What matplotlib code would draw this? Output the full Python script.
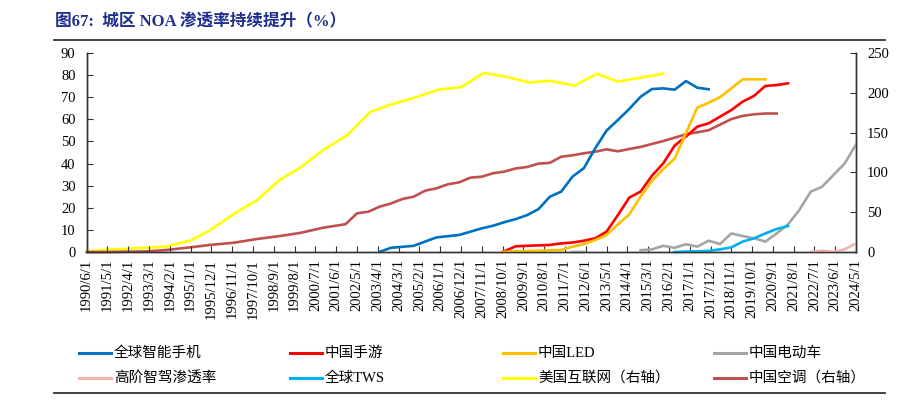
import numpy as np
import matplotlib.pyplot as plt
from matplotlib.lines import Line2D

plt.rcParams['font.family'] = ['Liberation Serif', 'Noto Sans CJK SC', 'DejaVu Sans']

# x axis: monthly category axis from 1990/6 to 2024/5, labels every 11 months
start_year, start_month = 1990, 6
n_months = 407

def mi(s):
    y, m = map(int, s.split('/'))
    return (y - start_year) * 12 + (m - start_month)

# ---- data (left axis, %) ----
phone_dates = ['2003/5', '2003/11', '2004/11', '2005/5', '2005/11', '2006/11', '2007/5', '2007/11',
               '2008/5', '2008/11', '2009/5', '2009/11', '2010/5', '2010/11', '2011/5', '2011/11',
               '2012/5', '2012/11', '2013/5', '2013/11', '2014/5', '2014/11', '2015/5', '2015/11',
               '2016/5', '2016/11', '2017/5', '2017/11']
phone_vals = [0.1, 1.9, 2.8, 4.7, 6.6, 7.7, 9.2, 10.7, 11.9, 13.5, 14.9, 16.7, 19.4, 25.0, 27.3, 34.1,
              37.9, 46.9, 54.9, 59.7, 64.7, 70.2, 73.7, 74.0, 73.4, 77.3, 74.3, 73.6]

game_dates = ['2008/10', '2009/5', '2009/11', '2010/5', '2010/11', '2011/5', '2011/11', '2012/5',
              '2012/11', '2013/5', '2013/11', '2014/5', '2014/11', '2015/5', '2015/11', '2016/5',
              '2016/11', '2017/5', '2017/11', '2018/5', '2018/11', '2019/5', '2019/11', '2020/5',
              '2020/11', '2021/5']
game_vals = [0, 2.6, 2.8, 3.0, 3.2, 3.9, 4.3, 5.1, 6.2, 9.2, 16.7, 24.6, 27.3, 34.5, 40.1, 48.1,
             52.2, 56.7, 58.2, 61.2, 64.2, 68.0, 70.6, 75.1, 75.5, 76.3]

led_dates = ['2008/10', '2009/5', '2009/11', '2010/5', '2010/11', '2011/5', '2011/11', '2012/5',
             '2012/11', '2013/5', '2013/11', '2014/5', '2014/11', '2015/5', '2015/11', '2016/5',
             '2016/11', '2017/5', '2017/11', '2018/5', '2018/11', '2019/5', '2019/11', '2020/5']
led_vals = [0, 0.3, 0.5, 0.6, 0.8, 0.9, 2.4, 3.6, 5.4, 7.7, 12.5, 17.0, 25.0, 32.2, 37.5, 42.2,
            53.7, 65.3, 67.5, 70.0, 74.0, 78.1, 78.1, 78.1]

ev_dates = ['2011/11', '2012/5', '2012/11', '2014/11', '2015/5', '2015/11', '2016/5', '2016/11',
            '2017/5', '2017/11', '2018/5', '2018/11', '2019/5', '2019/11', '2020/5', '2020/11',
            '2021/5', '2021/11', '2022/5', '2022/11', '2023/5', '2023/11', '2024/5']
ev_vals = [0, 0, np.nan, 0.8, 1.2, 2.8, 1.9, 3.5, 2.4, 5.1, 3.6, 8.4, 7.2, 6.2, 4.7, 8.4,
           12.5, 19.0, 27.3, 29.5, 34.8, 40.1, 48.7]

adas_dates = ['2022/5', '2022/11', '2023/5', '2023/11', '2024/5']
adas_vals = [0, 0.6, 0, 1.2, 3.9]

tws_dates = ['2016/5', '2016/11', '2017/5', '2017/11', '2018/5', '2018/11', '2019/5', '2019/11',
             '2020/5', '2020/11', '2021/5']
tws_vals = [0, 0.2, 0.3, 0.5, 1.2, 2.1, 4.7, 6.2, 8.4, 10.4, 11.8]

# ---- data (right axis) ----
net_dates = ['1990/6', '1991/4', '1992/3', '1993/2', '1993/12', '1995/1', '1995/11', '1996/12',
             '1997/12', '1998/12', '1999/11', '2000/11', '2001/12', '2002/12', '2003/12', '2005/1',
             '2005/12', '2006/12', '2007/12', '2008/12', '2009/12', '2010/11', '2011/12', '2012/12',
             '2013/11', '2014/11', '2015/11']
net_vals = [0.5, 3, 4, 5.6, 6.7, 14.6, 27, 48, 65, 90.5, 106, 128, 147, 176, 186, 195,
            204, 207, 225, 220, 213, 215, 209, 224, 214, 219, 224]

ac_dates = ['1990/6', '1991/4', '1992/3', '1993/2', '1993/12', '1995/1', '1995/11', '1996/12',
            '1997/12', '1998/12', '1999/11', '2000/11', '2001/5', '2001/11', '2002/5', '2002/11',
            '2003/5', '2003/11', '2004/5', '2004/11', '2005/5', '2005/11', '2006/5', '2006/11',
            '2007/5', '2007/11', '2008/5', '2008/11', '2009/5', '2009/11', '2010/5', '2010/11',
            '2011/5', '2011/11', '2012/5', '2012/11', '2013/5', '2013/11', '2014/5', '2014/11',
            '2015/5', '2015/11', '2016/5', '2016/11', '2017/5', '2017/11', '2018/5', '2018/11',
            '2019/5', '2019/11', '2020/5', '2020/11']
ac_vals = [0, 0, 0.4, 0.8, 2.5, 5.9, 8.8, 11.7, 16.3, 20, 24, 30.5, 32.7, 35, 48.6, 50.6,
           57, 61, 66.6, 69.5, 77, 80, 85, 87.5, 93.4, 94.6, 99, 101, 105, 106.8, 111, 112,
           119.7, 121.5, 124, 126, 129, 126.5, 129.4, 132, 135.7, 139.4, 143.6, 148, 150.4, 153,
           160, 167, 171, 173, 174, 174]

labels = ['全球智能手机', '中国手游', '中国LED', '中国电动车',
          '高阶智驾渗透率', '全球TWS', '美国互联网（右轴）', '中国空调（右轴）']
colors = ['#0070C0', '#FF0000', '#FFC000', '#A5A5A5',
          '#F2B5AE', '#00B0F0', '#FFFF00', '#C0504D']

left_series = [(phone_dates, phone_vals, 0), (game_dates, game_vals, 1), (led_dates, led_vals, 2),
               (ev_dates, ev_vals, 3), (adas_dates, adas_vals, 4), (tws_dates, tws_vals, 5)]
right_series = [(net_dates, net_vals, 6), (ac_dates, ac_vals, 7)]

fig = plt.figure(figsize=(9.04, 4.0), dpi=100)
ax = fig.add_axes([0.0959, 0.37, 0.947 - 0.0959, 0.4975])
ax2 = ax.twinx()

lw = 1.9
for d, v, i in right_series:
    ax2.plot([mi(s) for s in d], v, color=colors[i], lw=lw, solid_joinstyle='round', clip_on=False)
for d, v, i in left_series:
    ax.plot([mi(s) for s in d], v, color=colors[i], lw=lw, solid_joinstyle='round', clip_on=False)
ax.set_zorder(ax2.get_zorder() + 1)
ax.patch.set_visible(False)

ax.set_xlim(0, n_months)
ax.set_ylim(0, 90)
ax2.set_ylim(0, 250)
ax.set_yticks(range(0, 91, 10))
ax2.set_yticks(range(0, 251, 50))

tick_pos = list(range(0, n_months + 1, 11))
tick_lab = []
for p in tick_pos:
    y = start_year + (start_month - 1 + p) // 12
    m = (start_month - 1 + p) % 12 + 1
    tick_lab.append(f'{y}/{m}/1')
ax.set_xticks(tick_pos)
ax.set_xticklabels(tick_lab, rotation=90, fontsize=10.5)

for a in (ax, ax2):
    a.spines['top'].set_visible(False)
    for s in ('left', 'right', 'bottom'):
        a.spines[s].set_color('#333333')
        a.spines[s].set_linewidth(1.0)
    a.tick_params(direction='in', length=4, width=0.8, colors='#333333', labelsize=10.5,
                  labelcolor='black')
ax.tick_params(axis='y', pad=8)
ax2.tick_params(axis='y', pad=8)
ax.tick_params(axis='x', pad=5)

# title and separator lines
fig.text(55 / 904, 1 - 22 / 400, '图67:  城区 NOA 渗透率持续提升（%）', fontsize=12,
         fontweight='bold', color='#1F2F8F', va='center', ha='left')
fig.add_artist(Line2D([54 / 904, 885 / 904], [1 - 40 / 400, 1 - 40 / 400], color='#333333', lw=1.3))
fig.add_artist(Line2D([54 / 904, 885 / 904], [1 - 393 / 400, 1 - 393 / 400], color='#333333', lw=1.3))

# legend drawn by hand (4 columns, 2 rows)
col_x = [79, 290, 503, 714]
row_y = [353, 378]
for k, (lab, col) in enumerate(zip(labels, colors)):
    x0 = col_x[k % 4]
    y0 = row_y[k // 4]
    fig.add_artist(Line2D([x0 / 904, (x0 + 32) / 904], [1 - y0 / 400, 1 - y0 / 400], color=col, lw=2.2))
    fig.text((x0 + 35) / 904, 1 - y0 / 400, lab, fontsize=10.5, va='center', ha='left')

fig.savefig('out.png', dpi=100)
